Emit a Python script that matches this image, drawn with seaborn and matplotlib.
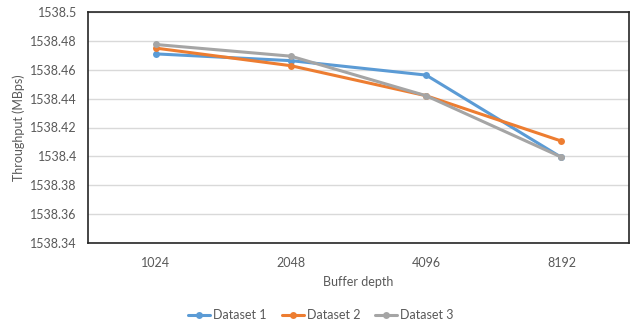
import matplotlib
matplotlib.use("Agg")
import matplotlib.pyplot as plt
import seaborn as sns
import pandas as pd

categories = ["1024", "2048", "4096", "8192"]
dataset1 = [1538.4710, 1538.4663, 1538.4563, 1538.3993]
dataset2 = [1538.4750, 1538.4628, 1538.4420, 1538.4106]
dataset3 = [1538.4775, 1538.4694, 1538.4420, 1538.3995]
series_names = ["Dataset 1", "Dataset 2", "Dataset 3"]
yticks = [1538.34, 1538.36, 1538.38, 1538.40, 1538.42, 1538.44, 1538.46, 1538.48, 1538.50]
ytick_labels = ["1538.34", "1538.36", "1538.38", "1538.4", "1538.42", "1538.44", "1538.46", "1538.48", "1538.5"]
colors = ["#5B9BD5", "#ED7D31", "#A5A5A5"]

rows = []
for name, vals in zip(series_names, [dataset1, dataset2, dataset3]):
    for c, v in zip(categories, vals):
        rows.append({"Buffer depth": c, "Throughput": v, "Series": name})
df = pd.DataFrame(rows)

sns.set_theme(style="white")
plt.rcParams['font.family'] = ['Lato', 'DejaVu Sans']
text_color = "#595959"

fig = plt.figure(figsize=(6.35, 3.28), dpi=100)
ax = fig.add_axes([88/635, 1-243/328, (629-88)/635, (243-12)/328])

sns.lineplot(data=df, x="Buffer depth", y="Throughput", hue="Series",
             palette=colors, marker="o", markersize=5, markeredgewidth=0,
             linewidth=2.2, sort=False, ax=ax, legend=True)

ax.set_xlim(-0.5, 3.5)
ax.set_ylim(1538.34, 1538.50)
ax.set_yticks(yticks)
ax.set_yticklabels(ytick_labels)
ax.yaxis.grid(True, color="#D9D9D9", linewidth=1)
ax.xaxis.grid(False)
ax.set_axisbelow(True)
for s in ax.spines.values():
    s.set_visible(True)
    s.set_color("#262626")
    s.set_linewidth(1.2)
ax.tick_params(axis="both", length=0, colors=text_color, labelsize=9)
ax.tick_params(axis="x", pad=10)
ax.tick_params(axis="y", pad=8)
ax.set_xlabel("Buffer depth", color=text_color, fontsize=9, labelpad=5)
ax.set_ylabel("Throughput (MBps)", color=text_color, fontsize=9)
ax.yaxis.set_label_coords((25 - 88) / (629 - 88), 0.5)

handles, labels = ax.get_legend_handles_labels()
ax.legend(handles, labels, loc="center", ncol=3, frameon=False, fontsize=9,
          labelcolor=text_color, handlelength=1.75, handletextpad=0.25,
          columnspacing=1.2,
          bbox_to_anchor=(321/635, 1-315/328), bbox_transform=fig.transFigure)

fig.savefig("out.png", dpi=100)
